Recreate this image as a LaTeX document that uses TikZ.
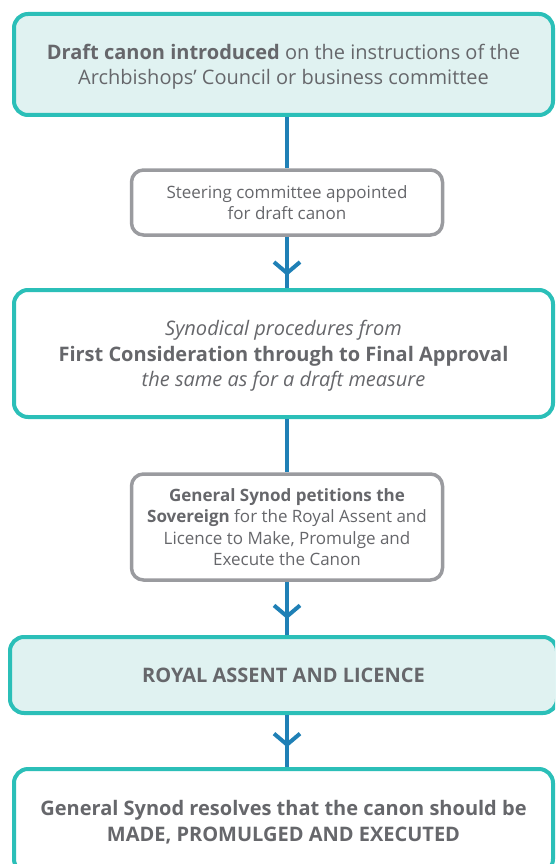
\documentclass[tikz,border=0pt]{standalone}
\usepackage{fontspec}
\setmainfont{Open Sans}
\usetikzlibrary{arrows.meta, decorations.markings}

\definecolor{synodteal}{HTML}{2BBFB8}
\definecolor{synodpale}{HTML}{E0F2F1}
\definecolor{synodsilver}{HTML}{9A9B9F}
\definecolor{synodgrey}{HTML}{66676B}
\definecolor{synodblue}{HTML}{1F80B6}

\begin{document}
\begin{tikzpicture}[
    x=1pt, y=-1pt,
    stage/.style={draw=synodteal, line width=4pt, rounded corners=14pt, fill=white, align=center, text=synodgrey, font=\fontsize{20}{25.5}\selectfont, inner sep=0pt, text depth=-2pt},
    keystage/.style={stage, fill=synodpale},
    substage/.style={draw=synodsilver, line width=3.5pt, rounded corners=12pt, fill=white, align=center, text=synodgrey, font=\fontsize{17}{21.5}\selectfont, inner sep=0pt, text depth=0pt},
    flow/.style={draw=synodblue, line width=4pt},
    chevron/.style={flow, postaction={decorate}, decoration={markings, mark=at position #1 with {\arrow{Straight Barb[length=11pt, width=26pt, line width=4pt]}}}},
]
  \useasboundingbox (0,0) rectangle (555,864);
  \clip (0,0) rectangle (555,864);

  % Main stages
  \node[keystage, minimum width=539pt, minimum height=101pt] (draft) at (283.5,64.5)
    {\textbf{Draft canon introduced} on the instructions of the\\Archbishops’ Council or business committee};
  \node[stage, minimum width=539pt, minimum height=127pt] (synodical) at (283.5,353.5)
    {\textit{Synodical procedures from}\\\textbf{First Consideration through to Final Approval}\\\textit{the same as for a draft measure}};
  \node[keystage, minimum width=547pt, minimum height=76pt] (assent) at (283.5,675)
    {\textbf{ROYAL ASSENT AND LICENCE}};
  \node[stage, minimum width=539pt, minimum height=104pt] (resolve) at (283.5,821)
    {\textbf{General Synod resolves that the canon should be}\\\textbf{MADE, PROMULGED AND EXECUTED}};

  % Side steps
  \node[substage, minimum width=311pt, minimum height=65pt] (steering) at (287,202.5)
    {Steering committee appointed\\for draft canon};
  \node[substage, minimum width=311pt, minimum height=106pt] (petition) at (287,527)
    {\textbf{General Synod petitions the}\\\textbf{Sovereign} for the Royal Assent and\\Licence to Make, Promulge and\\Execute the Canon};

  % Connectors
  \draw[flow] (steering.north |- draft.south) -- (steering.north);
  \draw[chevron=0.76] (steering.south) -- (steering.south |- synodical.north);
  \draw[flow] (petition.north |- synodical.south) -- (petition.north);
  \draw[chevron=0.7] (petition.south) -- (petition.south |- assent.north);
  \draw[chevron=0.62] (petition.south |- assent.south) -- (petition.south |- resolve.north);
\end{tikzpicture}
\end{document}
